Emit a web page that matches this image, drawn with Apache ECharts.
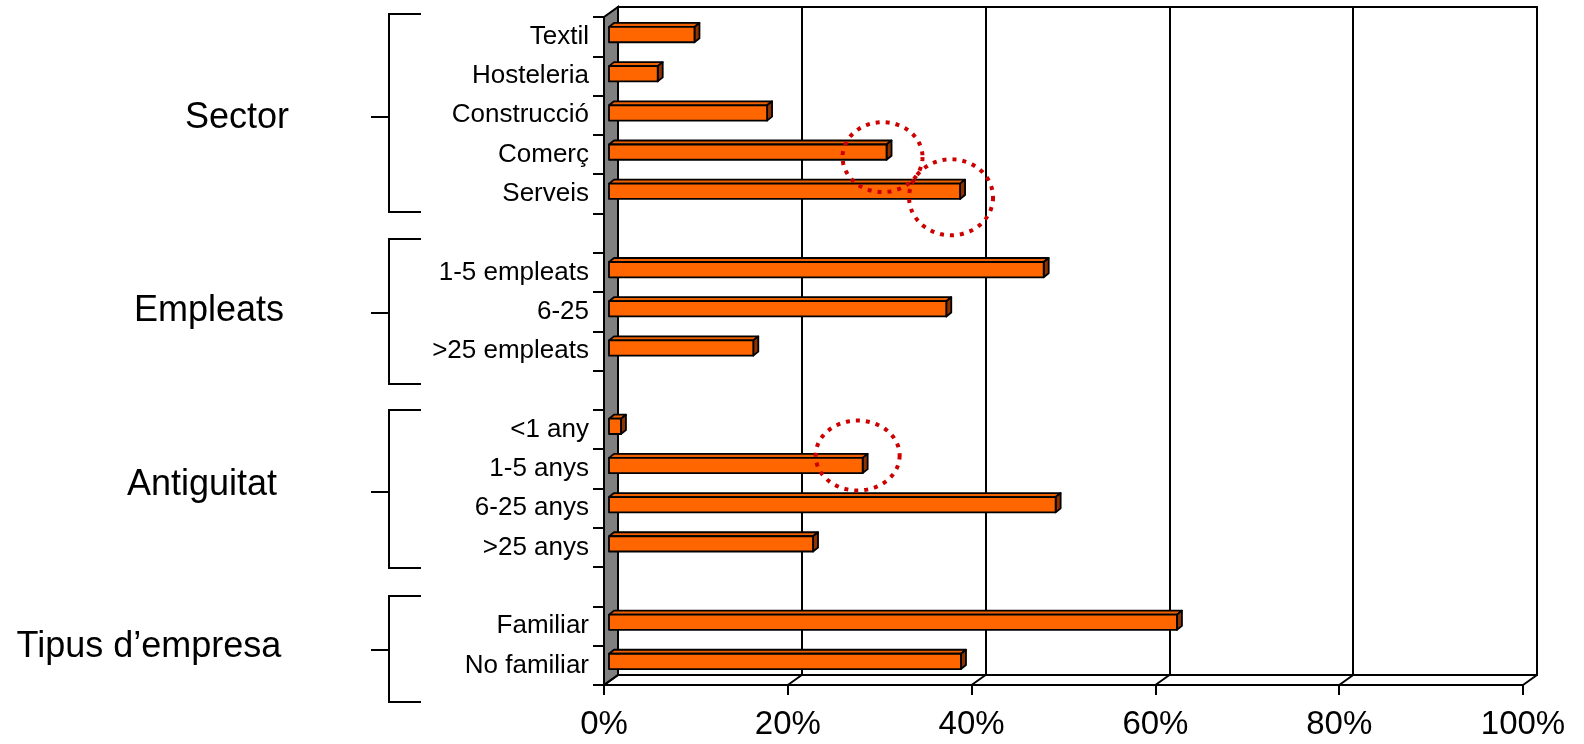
<!DOCTYPE html>
<html>
<head>
<meta charset="utf-8">
<script src="https://cdn.jsdelivr.net/npm/echarts@6.0.0/dist/echarts.min.js"></script>
<style>
  html, body { margin: 0; padding: 0; background: #fff; }
  #chart { width: 1584px; height: 744px; }
</style>
</head>
<body>
<div id="chart"></div>
<script>
// Share of firms per category (fraction of 1); blank slots separate the groups.
const categories = [
  'Textil', 'Hosteleria', 'Construcció', 'Comerç', 'Serveis', ' ',
  '1-5 empleats', '6-25', '>25 empleats', '  ',
  '<1 any', '1-5 anys', '6-25 anys', '>25 anys', '   ',
  'Familiar', 'No familiar'
];
const shares = [
  0.093, 0.053, 0.172, 0.302, 0.382, null,
  0.473, 0.367, 0.157, null,
  0.013, 0.276, 0.486, 0.222, null,
  0.618, 0.383
];
const xTicks = [0, 0.2, 0.4, 0.6, 0.8, 1];
const groupNames = ['Sector', 'Empleats', 'Antiguitat', 'Tipus d’empresa'];
const highlighted = ['Comerç', 'Serveis', '1-5 anys'];

// ---- presentation ----
const FONT = "'Liberation Sans', Arial, sans-serif";
const DEPTH = [14, -10];            // front plane -> back plane offset
const BAR_DEPTH = [5, -4];          // bar top / side thickness
const ORANGE = '#FF6600', ORANGE_TOP = '#EE6000', ORANGE_SIDE = '#8F3300';

// dotted rings: offset from the bar end, radii
const ringStyle = [
  { dx: -4, dy: 5, rx: 40, ry: 35 },
  { dx: -9, dy: 6, rx: 42, ry: 38 },
  { dx: -5, dy: -10, rx: 42, ry: 35 }
];
// brackets on the left: [top, bottom, middle]
const bracketLayout = [[14, 212, 117], [239, 384, 313], [410, 568, 492], [596, 702, 650]];
const groupLabelLayout = [[237, 118], [209, 311], [202, 485], [149, 647]];

const chart = echarts.init(document.getElementById('chart'), null, { renderer: 'canvas' });

const barData = shares.map((v, i) => [v, i]).filter(d => d[0] != null);
const ringData = highlighted.map(name => {
  const i = categories.indexOf(name);
  return [shares[i], i];
});

function ellipsePoints(cx, cy, rx, ry) {
  const pts = [];
  for (let k = 0; k < 96; k++) {
    const a = (k / 96) * Math.PI * 2;
    pts.push([cx + rx * Math.cos(a), cy + ry * Math.sin(a)]);
  }
  return pts;
}

const graphics = [];
bracketLayout.forEach(([t, b, m]) => {
  graphics.push({
    type: 'polyline', silent: true,
    shape: { points: [[421, t], [389, t], [389, b], [421, b]] },
    style: { stroke: '#000', lineWidth: 2, fill: null }
  });
  graphics.push({
    type: 'line', silent: true,
    shape: { x1: 371, y1: m, x2: 389, y2: m },
    style: { stroke: '#000', lineWidth: 2 }
  });
});
groupNames.forEach((name, i) => {
  graphics.push({
    type: 'text', silent: true,
    x: groupLabelLayout[i][0], y: groupLabelLayout[i][1],
    style: {
      text: name, fill: '#000', font: '36px ' + FONT,
      textAlign: 'center', textVerticalAlign: 'middle'
    }
  });
});

const option = {
  animation: false,
  backgroundColor: '#fff',
  grid: [
    // back wall
    { left: 618, top: 7, width: 919, height: 668, show: true, borderColor: '#000', borderWidth: 2, backgroundColor: '#fff' },
    // plane of the bars
    { left: 609, top: 15, width: 919, height: 666 },
    // front plane with the axes
    { left: 604, top: 17, width: 919, height: 668 }
  ],
  xAxis: [
    {
      gridIndex: 0, type: 'value', min: 0, max: 1, interval: 0.2,
      axisLine: { show: false }, axisTick: { show: false }, axisLabel: { show: false },
      splitLine: { show: true, lineStyle: { color: '#000', width: 2 } }
    },
    { gridIndex: 1, type: 'value', min: 0, max: 1, interval: 0.2, show: false },
    {
      gridIndex: 2, type: 'value', min: 0, max: 1, interval: 0.2,
      axisLine: { show: true, lineStyle: { color: '#000', width: 2 } },
      axisTick: { show: true, length: 10, lineStyle: { color: '#000', width: 2 } },
      axisLabel: {
        formatter: v => Math.round(v * 100) + '%',
        fontSize: 33, color: '#000', fontFamily: FONT, margin: 23
      },
      splitLine: { show: false }
    }
  ],
  yAxis: [
    { gridIndex: 0, type: 'category', data: categories, inverse: true, show: false },
    { gridIndex: 1, type: 'category', data: categories, inverse: true, show: false },
    {
      gridIndex: 2, type: 'category', data: categories, inverse: true,
      axisLine: { show: true, lineStyle: { color: '#000', width: 2 } },
      axisTick: { show: true, interval: 0, length: 11, lineStyle: { color: '#000', width: 2 } },
      axisLabel: { interval: 0, fontSize: 26, color: '#000', fontFamily: FONT, margin: 15 },
      splitLine: { show: false }
    }
  ],
  graphic: graphics,
  series: [
    {
      // side wall and floor of the 3D frame
      type: 'custom', xAxisIndex: 2, yAxisIndex: 2, z: 3, silent: true,
      data: [[0, 0]],
      renderItem(params, api) {
        const cs = params.coordSys;
        const x = cs.x, y = cs.y, h = cs.height;
        const [dx, dy] = DEPTH;
        const children = [{
          type: 'polygon',
          shape: { points: [[x, y], [x + dx, y + dy], [x + dx, y + h + dy], [x, y + h]] },
          style: { fill: '#808080', stroke: '#000', lineWidth: 2 }
        }];
        xTicks.forEach(v => {
          const px = api.coord([v, 0])[0];
          children.push({
            type: 'line',
            shape: { x1: px, y1: y + h, x2: px + dx, y2: y + h + dy },
            style: { stroke: '#000', lineWidth: 2 }
          });
        });
        children.push({
          type: 'line',
          shape: { x1: x, y1: y + h, x2: x + cs.width, y2: y + h },
          style: { stroke: '#000', lineWidth: 2 }
        });
        return { type: 'group', children };
      }
    },
    {
      // 3D bars
      type: 'custom', xAxisIndex: 1, yAxisIndex: 1, z: 4, silent: true,
      encode: { x: 0, y: 1 },
      data: barData,
      renderItem(params, api) {
        const v = api.value(0), idx = api.value(1);
        const p0 = api.coord([0, idx]);
        const p1 = api.coord([v, idx]);
        const t = api.size([0, 1])[1] * 0.39;
        const yT = p0[1] - t / 2, yB = p0[1] + t / 2;
        const [bx, by] = BAR_DEPTH;
        const x0 = p0[0], x1 = p1[0];
        const line = { stroke: '#000', lineWidth: 1.8, lineJoin: 'round' };
        return {
          type: 'group',
          children: [
            { type: 'polygon', shape: { points: [[x0, yT], [x0 + bx, yT + by], [x1 + bx, yT + by], [x1, yT]] },
              style: Object.assign({ fill: ORANGE_TOP }, line) },
            { type: 'polygon', shape: { points: [[x1, yT], [x1 + bx, yT + by], [x1 + bx, yB + by], [x1, yB]] },
              style: Object.assign({ fill: ORANGE_SIDE }, line) },
            { type: 'rect', shape: { x: x0, y: yT, width: x1 - x0, height: t },
              style: Object.assign({ fill: ORANGE }, line) }
          ]
        };
      }
    },
    {
      // dotted rings around selected bar ends
      type: 'custom', xAxisIndex: 1, yAxisIndex: 1, z: 6, silent: true,
      encode: { x: 0, y: 1 },
      data: ringData,
      renderItem(params, api) {
        const s = ringStyle[params.dataIndex];
        const p = api.coord([api.value(0), api.value(1)]);
        return {
          type: 'polygon',
          shape: { points: ellipsePoints(p[0] + s.dx, p[1] + s.dy, s.rx, s.ry) },
          style: { fill: null, stroke: '#CC0000', lineWidth: 4, lineDash: [4, 6], lineCap: 'butt' }
        };
      }
    }
  ]
};

chart.setOption(option);
</script>
</body>
</html>
